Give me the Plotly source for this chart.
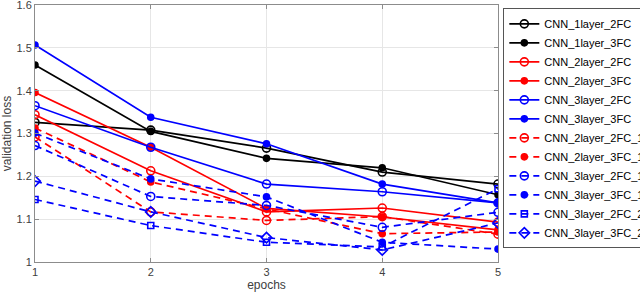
import plotly.graph_objects as go

epochs = [1, 2, 3, 4, 5]

cnn_1layer_2fc = [1.326, 1.308, 1.266, 1.210, 1.182]
cnn_1layer_3fc = [1.460, 1.305, 1.242, 1.220, 1.157]
cnn_2layer_2fc = [1.344, 1.213, 1.117, 1.126, 1.093]
cnn_2layer_3fc = [1.396, 1.268, 1.125, 1.105, 1.075]
cnn_3layer_2fc = [1.365, 1.268, 1.182, 1.164, 1.138]
cnn_3layer_3fc = [1.507, 1.338, 1.276, 1.182, 1.138]
cnn_2layer_2fc_1 = [1.292, 1.117, 1.097, 1.106, 1.065]
cnn_2layer_3fc_1 = [1.313, 1.187, 1.124, 1.066, 1.070]
cnn_3layer_2fc_1 = [1.272, 1.153, 1.132, 1.081, 1.116]
cnn_3layer_3fc_1 = [1.301, 1.194, 1.152, 1.046, 1.030]
cnn_3layer_2fc_2 = [1.146, 1.085, 1.046, 1.035, 1.171]
cnn_3layer_3fc_2 = [1.189, 1.117, 1.057, 1.028, 1.091]

y_ticks = [1, 1.1, 1.2, 1.3, 1.4, 1.5, 1.6]
y_tick_labels = ["1", "1.1", "1.2", "1.3", "1.4", "1.5", "1.6"]

series = [
    ("CNN_1layer_2FC", cnn_1layer_2fc, "#000000", "solid", "circle-open"),
    ("CNN_1layer_3FC", cnn_1layer_3fc, "#000000", "solid", "circle"),
    ("CNN_2layer_2FC", cnn_2layer_2fc, "#ff0000", "solid", "circle-open"),
    ("CNN_2layer_3FC", cnn_2layer_3fc, "#ff0000", "solid", "circle"),
    ("CNN_3layer_2FC", cnn_3layer_2fc, "#0000ff", "solid", "circle-open"),
    ("CNN_3layer_3FC", cnn_3layer_3fc, "#0000ff", "solid", "circle"),
    ("CNN_2layer_2FC_1", cnn_2layer_2fc_1, "#ff0000", "7px,5px", "circle-open"),
    ("CNN_2layer_3FC_1", cnn_2layer_3fc_1, "#ff0000", "7px,5px", "circle"),
    ("CNN_3layer_2FC_1", cnn_3layer_2fc_1, "#0000ff", "7px,5px", "circle-open"),
    ("CNN_3layer_3FC_1", cnn_3layer_3fc_1, "#0000ff", "7px,5px", "circle"),
    ("CNN_3layer_2FC_2", cnn_3layer_2fc_2, "#0000ff", "7px,5px", "square-open"),
    ("CNN_3layer_3FC_2", cnn_3layer_3fc_2, "#0000ff", "7px,5px", "diamond-open"),
]

marker_sizes = {"circle": 6, "circle-open": 8, "square-open": 6, "diamond-open": 8}

fig = go.Figure()
for name, vals, color, dash, sym in series:
    fig.add_trace(go.Scatter(
        x=epochs, y=vals, name=name, mode="lines+markers",
        line=dict(color=color, width=1.7, dash=dash),
        marker=dict(symbol=sym, size=marker_sizes[sym], color=color,
                    line=dict(color=color, width=1.6)),
    ))

FONT = "Liberation Sans, Arial, sans-serif"
axis_common = dict(
    showline=True, linecolor="#8c8c8c", linewidth=1, mirror="ticks",
    ticks="inside", ticklen=4, tickcolor="#8c8c8c",
    showgrid=True, gridcolor="#e6e6e6", gridwidth=1, zeroline=False,
    tickfont=dict(family=FONT, size=11, color="#404040"),
    ticklabeloverflow="allow",
)

fig.update_xaxes(range=[1, 5], tickvals=epochs,
                 title=dict(text="epochs", standoff=2,
                            font=dict(family=FONT, size=12, color="#404040")),
                 **axis_common)
fig.update_yaxes(range=[0.9999, 1.6003], tickvals=y_ticks, ticktext=y_tick_labels,
                 title=dict(text="validation loss", standoff=4,
                            font=dict(family=FONT, size=12, color="#404040")),
                 **axis_common)

fig.update_layout(
    width=640, height=297,
    margin=dict(l=35, r=142, t=5, b=35, autoexpand=False),
    paper_bgcolor="white", plot_bgcolor="white",
    showlegend=True,
    legend=dict(
        x=1.0115, y=0.52, xanchor="left", yanchor="middle",
        bgcolor="white", bordercolor="#555555", borderwidth=1,
        font=dict(family=FONT, size=11, color="#000000"),
        itemwidth=30, tracegroupgap=0,
    ),
)

fig.write_html("out.html",
               config={"displayModeBar": False},
               post_script="document.body.style.margin='0px';document.body.style.overflow='hidden';")
